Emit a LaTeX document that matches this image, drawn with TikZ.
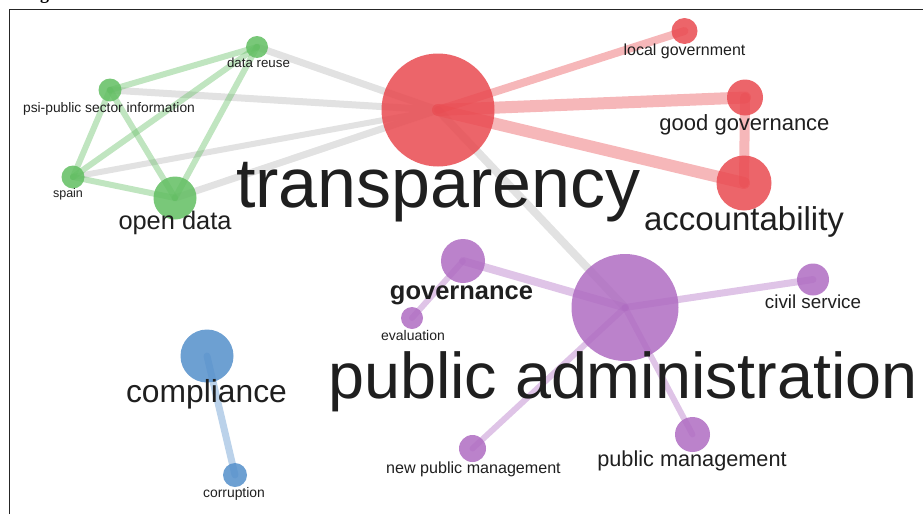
\documentclass[tikz,border=0pt]{standalone}
\usepackage{fontspec}
\setmainfont{Liberation Sans}
\newfontfamily\capfont{Liberation Serif}
\usepackage{xcolor}
\usepackage{tikz}
\usetikzlibrary{backgrounds}

% cluster colours
\definecolor{redc}{RGB}{233,74,80}
\definecolor{greenc}{RGB}{98,190,98}
\definecolor{purplec}{RGB}{175,108,194}
\definecolor{bluec}{RGB}{84,143,202}
\definecolor{linkgray}{RGB}{226,226,226}

\newcommand{\sz}[1]{\fontsize{#1}{#1}\selectfont}

\begin{document}
\begin{tikzpicture}[x=1pt,y=-1pt,
                    kw/.style={circle,draw=none,inner sep=0pt,fill opacity=0.85},
                    lbl/.style={anchor=base,inner sep=0pt,text=black!88},
                    link/.style={line cap=round,opacity=0.4}]

  \useasboundingbox (0,0) rectangle (923,514);

  % caption cut at the top edge and frame
  \node[anchor=base west,inner sep=0pt,font=\capfont\bfseries\sz{18}] (cap) at (24,-1) {Fig};
  \draw[line width=0.9pt,black!85] (9,514) -- (9,9.5) -- (923,9.5);

  % keywords
  \node[kw,fill=greenc,minimum size=22pt]  (dr)  at (257,47) {};
  \node[kw,fill=greenc,minimum size=23pt]  (psi) at (110,90) {};
  \node[kw,fill=greenc,minimum size=23pt]  (sp)  at (73,177) {};
  \node[kw,fill=greenc,minimum size=43pt]  (od)  at (175,198) {};

  \node[kw,fill=redc,minimum size=113pt]   (tr)  at (438,110) {};
  \node[kw,fill=redc,minimum size=26pt]    (lg)  at (684.5,31) {};
  \node[kw,fill=redc,minimum size=36pt]    (gg)  at (745,97.5) {};
  \node[kw,fill=redc,minimum size=55pt]    (acc) at (744,183) {};

  \node[kw,fill=purplec,minimum size=44pt]  (gov) at (463,261) {};
  \node[kw,fill=purplec,minimum size=22pt]  (ev)  at (412,318) {};
  \node[kw,fill=purplec,minimum size=107pt] (pa)  at (625,307.5) {};
  \node[kw,fill=purplec,minimum size=32pt]  (cs)  at (813,279.5) {};
  \node[kw,fill=purplec,minimum size=35pt]  (pm)  at (692.5,434.5) {};
  \node[kw,fill=purplec,minimum size=27pt]  (npm) at (472.5,448.5) {};

  \node[kw,fill=bluec,minimum size=53pt]   (co)  at (207,356) {};
  \node[kw,fill=bluec,minimum size=24pt]   (cor) at (235,475) {};

  % links go underneath
  \begin{scope}[on background layer]
    \draw[link,linkgray,opacity=1,line width=7pt] (dr.center) -- (tr.center);
    \draw[link,linkgray,opacity=1,line width=7pt] (psi.center) -- (tr.center);
    \draw[link,linkgray,opacity=1,line width=6pt] (sp.center) -- (tr.center);
    \draw[link,linkgray,opacity=1,line width=7pt] (od.center) -- (tr.center);
    \draw[link,linkgray,opacity=1,line width=8pt] (tr.center) -- (pa.center);

    \draw[link,greenc,line width=6pt] (dr.center) -- (psi.center);
    \draw[link,greenc,line width=6pt] (dr.center) -- (sp.center);
    \draw[link,greenc,line width=6pt] (dr.center) -- (od.center);
    \draw[link,greenc,line width=6pt] (psi.center) -- (sp.center);
    \draw[link,greenc,line width=6pt] (psi.center) -- (od.center);
    \draw[link,greenc,line width=6pt] (sp.center) -- (od.center);

    \draw[link,redc,line width=8pt]  (tr.center) -- (lg.center);
    \draw[link,redc,line width=12pt] (tr.center) -- (gg.center);
    \draw[link,redc,line width=12pt] (tr.center) -- (acc.center);
    \draw[link,redc,line width=10pt] (gg.center) -- (acc.center);

    \draw[link,purplec,line width=8pt] (pa.center) -- (gov.center);
    \draw[link,purplec,line width=6pt] (gov.center) -- (ev.center);
    \draw[link,purplec,line width=7pt] (pa.center) -- (cs.center);
    \draw[link,purplec,line width=6pt] (pa.center) -- (pm.center);
    \draw[link,purplec,line width=6pt] (pa.center) -- (npm.center);

    \draw[link,bluec,line width=7pt] (co.center) -- (cor.center);
  \end{scope}

  % labels
  \node[lbl,font=\sz{13.3}] (drL)  at (258.5,67)  {data reuse};
  \node[lbl,font=\sz{13.8}] (psiL) at (109,112)   {psi-public sector information};
  \node[lbl,font=\sz{12.5}] (spL)  at (68,197)    {spain};
  \node[lbl,font=\sz{25.4}] (odL)  at (175,229)   {open data};

  \node[lbl,font=\sz{70}]   (trL)  at (438.5,207) {transparency};
  \node[lbl,font=\sz{16}]   (lgL)  at (684.5,55)  {local government};
  \node[lbl,font=\sz{22}]   (ggL)  at (744.5,130) {good governance};
  \node[lbl,font=\sz{33}]   (accL) at (744,230)   {accountability};

  \node[lbl,font=\bfseries\sz{25.5}] (govL) at (461.5,299) {governance};
  \node[lbl,font=\sz{14}]   (evL)  at (413,340)   {evaluation};
  \node[lbl,font=\sz{64.7}] (paL)  at (623,398)   {public administration};
  \node[lbl,font=\sz{18.8}] (csL)  at (813,308)   {civil service};
  \node[lbl,font=\sz{21.7}] (pmL)  at (692,466.5) {public management};
  \node[lbl,font=\sz{16.1}] (npmL) at (473.5,473) {new public management};

  \node[lbl,font=\sz{31.8}] (coL)  at (206.5,402) {compliance};
  \node[lbl,font=\sz{13.9}] (corL) at (234,497)   {corruption};

\end{tikzpicture}
\end{document}
